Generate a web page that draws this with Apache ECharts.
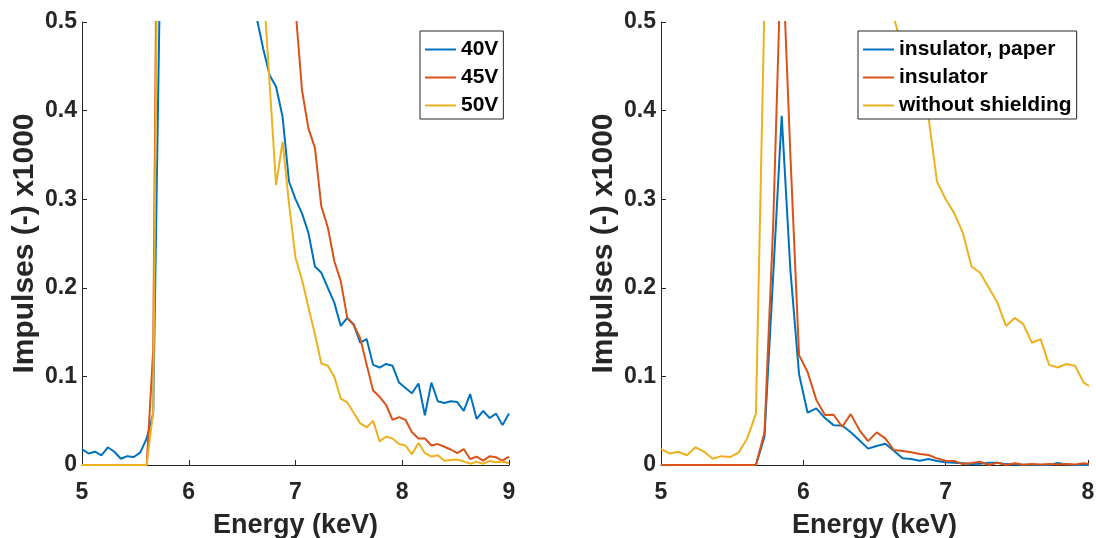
<!DOCTYPE html>
<html>
<head>
<meta charset="utf-8">
<script src="https://cdn.jsdelivr.net/npm/echarts@6/dist/echarts.min.js"></script>
<style>
html,body{margin:0;padding:0;background:#fff;}
#chart{width:1096px;height:538px;}
</style>
</head>
<body>
<div id="chart"></div>
<script>
// Energy bins (keV)
const energy = [5.000,5.061,5.121,5.182,5.242,5.303,5.364,5.424,5.485,5.545,5.606,5.667,5.727,5.788,5.848,5.909,5.970,6.030,6.091,6.152,6.212,6.273,6.333,6.394,6.455,6.515,6.576,6.636,6.697,6.758,6.818,6.879,6.939,7.000,7.061,7.121,7.182,7.242,7.303,7.364,7.424,7.485,7.545,7.606,7.667,7.727,7.788,7.848,7.909,7.970,8.030,8.091,8.152,8.212,8.273,8.333,8.394,8.455,8.515,8.576,8.636,8.697,8.758,8.818,8.879,8.939,9.000];

// Left panel: tube voltage series (Impulses x1000)
const v40 = [0.018,0.013,0.015,0.011,0.020,0.015,0.007,0.010,0.009,0.014,0.030,0.058,
  0.52,1.6,2.8,3.1,2.3,1.4,0.95,0.78,0.70,0.72,0.80,0.88,0.90,0.82,0.66,
  0.505,0.47,0.44,0.427,0.393,0.320,0.300,0.284,0.262,0.224,0.217,
  0.200,0.183,0.157,0.166,0.159,0.138,0.142,0.113,0.110,0.114,0.112,0.093,0.087,0.081,0.092,0.056,0.093,0.072,0.070,0.072,0.071,0.061,0.080,0.052,0.061,0.053,0.058,0.045,0.058];
const v45 = [0,0,0,0,0,0,0,0,0,0,0,0.13,
  1.0,2.2,3.4,3.8,3.0,2.0,1.4,1.1,0.95,0.92,0.98,1.05,1.08,1.0,0.9,0.82,0.76,0.70,0.64,0.60,0.56,
  0.515,0.423,0.380,0.358,0.292,0.268,0.230,0.2075,0.166,0.158,0.143,0.113,0.084,0.077,0.068,0.051,0.054,0.051,0.037,0.030,0.030,0.022,0.0236,0.0206,0.0175,0.0133,0.018,0.0068,0.0094,0.005,0.0098,0.0087,0.005,0.0095];
const v50 = [0,0,0,0,0,0,0,0,0,0,0,0.06,
  0.9,2.0,3.2,3.6,2.8,1.8,1.2,0.95,0.85,0.85,0.92,0.98,0.95,0.85,0.72,0.62,
  0.545,0.43,0.316,0.365,0.295,0.234,0.209,0.178,0.1475,0.1145,0.112,0.0995,0.075,0.0706,0.059,0.047,0.0424,0.050,0.0267,0.032,0.030,0.0236,0.022,0.012,0.0248,0.0135,0.0095,0.011,0.0049,0.0056,0.0062,0.004,0.0015,0.0035,0.0015,0.0045,0.003,0.004,0.002];

// Right panel: shielding series
const insulatorPaper = [0,0,0,0,0,0,0,0,0,0,0,0,
  0.032,0.213,0.394,0.22,0.1025,0.059,0.064,0.053,0.045,0.0445,0.037,0.028,0.0185,0.0215,0.024,0.016,0.0075,0.0068,0.0048,0.0068,0.0045,0.003,0.0026,0.002,0.001,0.0015,0.0026,0.0026,0.001,0.0005,0.0003,0.0004,0,0,0.0023,0.0005,0,0,0];
const insulator = [0,0,0,0,0,0,0,0,0,0,0,0,
  0.037,0.27,0.60,0.35,0.124,0.105,0.0735,0.0563,0.0567,0.0432,0.0574,0.0394,0.027,0.0368,0.030,0.0169,0.0158,0.0143,0.0124,0.0113,0.0075,0.0048,0.0045,0.001,0.0023,0.0037,0,0.0026,0,0.002,0.0004,0.001,0.0005,0.001,0.0005,0.001,0.0005,0.002,0.0004];
const withoutShielding = v40.slice(0, 51);

const xTicksLeft = [5, 9];
const xTicksRight = [5, 8];
const yRange = [0, 0.5];

const leftNames = ['40V', '45V', '50V'];
const rightNames = ['insulator, paper', 'insulator', 'without shielding'];
const colors = ['#0072BD', '#D95319', '#EDB120'];

const FONT = '"Liberation Sans", Arial, Helvetica, sans-serif';
const AX = '#262626';

function pairs(vals) { return vals.map((v, i) => [energy[i], v]); }

function xAxis(idx, range) {
  return {
    type: 'value', gridIndex: idx, min: range[0], max: range[1], interval: 1,
    name: 'Energy (keV)', nameLocation: 'middle', nameGap: 47,
    nameTextStyle: { fontFamily: FONT, fontWeight: 'bold', fontSize: 27, color: AX },
    axisLine: { show: true, onZero: false, lineStyle: { color: AX, width: 1 } },
    axisTick: { show: true, inside: true, length: 5, lineStyle: { color: AX } },
    axisLabel: { fontFamily: FONT, fontWeight: 'bold', fontSize: 23, color: AX, margin: 16 },
    splitLine: { show: false }
  };
}
function yAxis(idx) {
  return {
    type: 'value', gridIndex: idx, min: yRange[0], max: yRange[1], interval: 0.1,
    name: 'Impulses (-) x1000', nameLocation: 'middle', nameGap: 42, nameRotate: 90,
    nameTextStyle: { fontFamily: FONT, fontWeight: 'bold', fontSize: 30, color: AX },
    axisLine: { show: true, lineStyle: { color: AX, width: 1 } },
    axisTick: { show: true, inside: true, length: 5, lineStyle: { color: AX } },
    axisLabel: { fontFamily: FONT, fontWeight: 'bold', fontSize: 23, color: AX, margin: 5 },
    splitLine: { show: false }
  };
}
function series(name, vals, idx, color) {
  return {
    name: name, type: 'line', xAxisIndex: idx, yAxisIndex: idx,
    data: pairs(vals), showSymbol: false, symbol: 'none', clip: true,
    lineStyle: { color: color, width: 2 }, itemStyle: { color: color },
    animation: false
  };
}
function legend(names, left) {
  return {
    data: names, orient: 'vertical', left: left, top: 31,
    icon: 'rect', itemWidth: 31, itemHeight: 2, itemGap: 7, itemTextGap: 2,
    padding: [8, 5, 3, 5], borderColor: AX, borderWidth: 1, backgroundColor: '#fff',
    textStyle: { fontFamily: FONT, fontWeight: 'bold', fontSize: 21, color: '#000' },
    selectedMode: false
  };
}

const chart = echarts.init(document.getElementById('chart'), null, { renderer: 'canvas' });
chart.setOption({
  animation: false,
  backgroundColor: '#fff',
  grid: [
    { left: 82, top: 22, width: 427, height: 443, containLabel: false, outerBoundsMode: 'none' },
    { left: 661, top: 22, width: 427, height: 443, containLabel: false, outerBoundsMode: 'none' }
  ],
  xAxis: [xAxis(0, xTicksLeft), xAxis(1, xTicksRight)],
  yAxis: [yAxis(0), yAxis(1)],
  legend: [legend(leftNames, 420), legend(rightNames, 858)],
  series: [
    series(leftNames[0], v40, 0, colors[0]),
    series(leftNames[1], v45, 0, colors[1]),
    series(leftNames[2], v50, 0, colors[2]),
    series(rightNames[0], insulatorPaper, 1, colors[0]),
    series(rightNames[1], insulator, 1, colors[1]),
    series(rightNames[2], withoutShielding, 1, colors[2])
  ]
});
</script>
</body>
</html>
